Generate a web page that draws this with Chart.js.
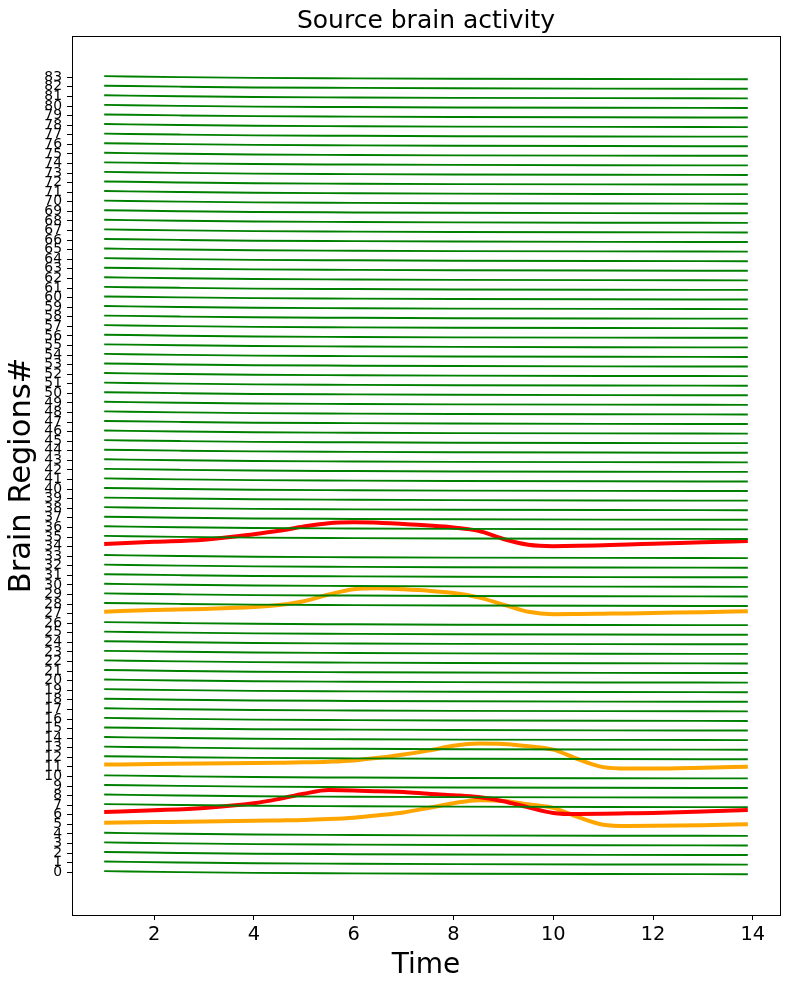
<!DOCTYPE html>
<html>
<head>
<meta charset="utf-8">
<script src="https://cdn.jsdelivr.net/npm/chart.js@4.4.0/dist/chart.umd.min.js"></script>
<style>
  body { margin: 0; background: #fff; }
  canvas { display: block; }
</style>
</head>
<body>
<canvas id="chartBrain" width="790" height="989"></canvas>
<script>
// --- DATA ---
const regionCount = 84;
const regionIds = Array.from({ length: regionCount }, (_, i) => i);
const yTicks = regionIds;
const xTicks = [2, 4, 6, 8, 10, 12, 14];

// resting (green) regions: slow drift around their offset
const greenTime = [1, 2.5, 4, 6, 8, 11, 13.9];
const greenDrift = [0.12, 0.02, -0.06, -0.11, -0.15, -0.18, -0.2];

// highlighted regions, sampled on a common time grid
const activeTime = [1, 2, 3, 4, 4.5, 5, 5.5, 6, 6.5, 7, 7.5, 8, 8.5, 9, 9.5, 10, 10.5, 11, 11.5, 12, 13, 13.9];
const red34 = [34.28, 34.5, 34.72, 35.3, 35.65, 36.1, 36.45, 36.54, 36.5, 36.35, 36.2, 36.0, 35.65, 34.8, 34.2, 34.05, 34.08, 34.15, 34.22, 34.3, 34.45, 34.59];
const red6 = [6.3, 6.48, 6.72, 7.2, 7.65, 8.2, 8.58, 8.55, 8.45, 8.38, 8.2, 8.05, 7.85, 7.42, 6.78, 6.2, 6.08, 6.1, 6.15, 6.2, 6.35, 6.5];
const orange27 = [27.21, 27.38, 27.5, 27.7, 27.9, 28.3, 29.0, 29.55, 29.65, 29.55, 29.4, 29.15, 28.7, 27.95, 27.2, 26.95, 26.97, 27.0, 27.03, 27.08, 27.15, 27.25];
const orange11 = [11.24, 11.3, 11.36, 11.41, 11.44, 11.48, 11.55, 11.68, 11.95, 12.3, 12.7, 13.2, 13.45, 13.4, 13.15, 12.8, 11.8, 10.98, 10.83, 10.83, 10.92, 11.03];
const orange5 = [5.18, 5.24, 5.3, 5.37, 5.41, 5.45, 5.55, 5.7, 5.95, 6.25, 6.72, 7.2, 7.53, 7.45, 7.1, 6.72, 5.75, 4.97, 4.84, 4.85, 4.92, 5.01];

const activeRegions = { 5: orange5, 6: red6, 11: orange11, 27: orange27, 34: red34 };
const activeColors = { 5: '#ffa500', 6: '#ff0000', 11: '#ffa500', 27: '#ffa500', 34: '#ff0000' };

// --- DATASETS (one per region, later regions drawn on top) ---
const datasets = regionIds.map(r => {
    const active = activeRegions[r];
    const pts = active
        ? activeTime.map((t, k) => ({ x: t, y: active[k] }))
        : greenTime.map((t, k) => ({ x: t, y: r + greenDrift[k] }));
    return {
        label: 'Region ' + r,
        data: pts,
        borderColor: active ? activeColors[r] : '#008000',
        borderWidth: active ? 4 : 1.9,
        pointRadius: 0,
        cubicInterpolationMode: 'monotone',
        order: regionCount - r
    };
});

const font = 'DejaVu Sans';

// frame + title placed over the plot area like matplotlib
const framePlugin = {
    id: 'frame',
    afterDraw(chart) {
        const { ctx, chartArea: a } = chart;
        ctx.save();
        ctx.strokeStyle = '#000';
        ctx.lineWidth = 1;
        ctx.strokeRect(a.left + 0.5, a.top + 0.5, a.right - a.left, a.bottom - a.top);
        ctx.fillStyle = '#000';
        ctx.font = '25px "' + font + '"';
        ctx.textAlign = 'center';
        ctx.textBaseline = 'alphabetic';
        ctx.fillText('Source brain activity', (a.left + a.right) / 2, 28);
        ctx.restore();
    }
};

new Chart(document.getElementById('chartBrain'), {
    type: 'line',
    data: { datasets },
    options: {
        responsive: false,
        animation: false,
        devicePixelRatio: 1,
        layout: { padding: { top: 36, right: 10, left: 0, bottom: 0 } },
        plugins: { legend: { display: false }, tooltip: { enabled: false }, title: { display: false } },
        scales: {
            x: {
                type: 'linear',
                min: 0.355,
                max: 14.545,
                afterBuildTicks: s => { s.ticks = xTicks.map(v => ({ value: v })); },
                afterFit: s => { s.height = 74; },
                grid: { drawOnChartArea: false, drawTicks: true, tickLength: 5, color: '#000' },
                border: { display: false },
                ticks: { color: '#000', font: { family: font, size: 19.4 }, padding: 3, maxRotation: 0 },
                title: { display: true, text: 'Time', color: '#000', font: { family: font, size: 28 }, padding: { top: 0, bottom: 6 } }
            },
            y: {
                type: 'linear',
                min: -4.46,
                max: 87.31,
                afterBuildTicks: s => { s.ticks = yTicks.map(v => ({ value: v })); },
                afterFit: s => { s.width = 72; },
                grid: { drawOnChartArea: false, drawTicks: true, tickLength: 5, color: '#000' },
                border: { display: false },
                ticks: { color: '#000', font: { family: font, size: 13.9 }, padding: 5, autoSkip: false },
                title: { display: true, text: 'Brain Regions#', color: '#000', font: { family: font, size: 30.5 }, padding: { top: 4, bottom: 0 } }
            }
        }
    },
    plugins: [framePlugin]
});
</script>
</body>
</html>
